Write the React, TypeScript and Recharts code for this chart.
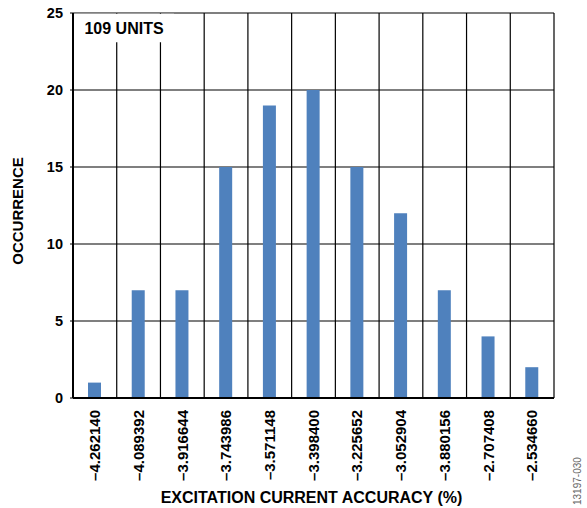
import React from "react";
import { BarChart, Bar, XAxis, YAxis, CartesianGrid, ReferenceArea } from "recharts";

const categories = [
  "\u20134.262140",
  "\u20134.089392",
  "\u20133.916644",
  "\u20133.743986",
  "\u20133.571148",
  "\u20133.398400",
  "\u20133.225652",
  "\u20133.052904",
  "\u20133.880156",
  "\u20132.707408",
  "\u20132.534660",
];
const counts = [1, 7, 7, 15, 19, 20, 15, 12, 7, 4, 2];
const yTicks = [0, 5, 10, 15, 20, 25];
const unitsLabel = "109 UNITS";
const xTitle = "EXCITATION CURRENT ACCURACY (%)";
const yTitle = "OCCURRENCE";
const figId = "13197-030";

const data = categories.map((cat, i) => ({ cat, count: counts[i] }));

const FONT = "Arial, 'Liberation Sans', Helvetica, sans-serif";

const XTick = (props: any) => {
  const { x, y, payload } = props;
  return (
    <text
      x={x}
      y={y}
      transform={`rotate(-90 ${x} ${y})`}
      textAnchor="end"
      dy="0.35em"
      fontFamily={FONT}
      fontSize={15}
      fontWeight="bold"
      fill="#000"
    >
      {payload.value}
    </text>
  );
};

const xLabelContent = (props: any) => {
  const vb = props.viewBox;
  const cx = vb.x + vb.width / 2 - 2;
  const by = vb.y + vb.height - 5;
  const fx = vb.x + vb.width + 27;
  const fy = vb.y + vb.height - 3;
  return (
    <g>
      <text
        x={cx}
        y={by}
        textAnchor="middle"
        fontFamily={FONT}
        fontSize={16}
        fontWeight="bold"
        fill="#000"
      >
        {xTitle}
      </text>
      <text
        x={fx}
        y={fy}
        transform={`rotate(-90 ${fx} ${fy})`}
        textAnchor="start"
        fontFamily={FONT}
        fontSize={10}
        fill="#666"
      >
        {figId}
      </text>
    </g>
  );
};

const yLabelContent = (props: any) => {
  const vb = props.viewBox;
  const x = vb.x + 22.5;
  const y = vb.y + vb.height / 2 + 5.5;
  return (
    <text
      x={x}
      y={y}
      transform={`rotate(-90 ${x} ${y})`}
      textAnchor="middle"
      fontFamily={FONT}
      fontSize={15}
      fontWeight="bold"
      fill="#000"
    >
      {yTitle}
    </text>
  );
};

export default function App() {
  return (
    <div style={{ position: "absolute", left: 0, top: 0, width: 587, height: 508, background: "#fff" }}>
      <BarChart
        width={587}
        height={508}
        data={data}
        margin={{ top: 13, right: 33, left: 0, bottom: 0 }}
        barCategoryGap={0}
      >
        <CartesianGrid
          stroke="#000"
          strokeWidth={1.2}
          verticalCoordinatesGenerator={({ offset }: any) =>
            Array.from({ length: categories.length + 1 }, (_, i) => offset.left + (i * offset.width) / categories.length)
          }
        />
        <XAxis
          dataKey="cat"
          type="category"
          interval={0}
          height={110}
          tickLine={false}
          tickSize={0}
          tickMargin={12}
          axisLine={{ stroke: "#000", strokeWidth: 2 }}
          tick={<XTick />}
          label={{ content: xLabelContent }}
        />
        <XAxis xAxisId="n" type="number" domain={[0, categories.length]} hide />
        <YAxis
          width={73}
          domain={[0, 25]}
          ticks={yTicks}
          interval={0}
          tickSize={3}
          tickMargin={7}
          axisLine={{ stroke: "#000", strokeWidth: 2 }}
          tickLine={{ stroke: "#000", strokeWidth: 1 }}
          tick={{ fontFamily: FONT, fontSize: 14.5, fontWeight: "bold", fill: "#000" }}
          label={{ content: yLabelContent }}
        />
        <ReferenceArea
          xAxisId="n"
          x1={0.03}
          x2={2.1}
          y1={23.1}
          y2={24.95}
          fill="#fff"
          fillOpacity={1}
          stroke="none"
          label={{
            value: unitsLabel,
            position: "insideLeft",
            offset: 10,
            fontFamily: FONT,
            fontSize: 16,
            fontWeight: "bold",
            fill: "#000",
          }}
        />
        <Bar dataKey="count" fill="#4F81BD" barSize={13} isAnimationActive={false} />
      </BarChart>
    </div>
  );
}
